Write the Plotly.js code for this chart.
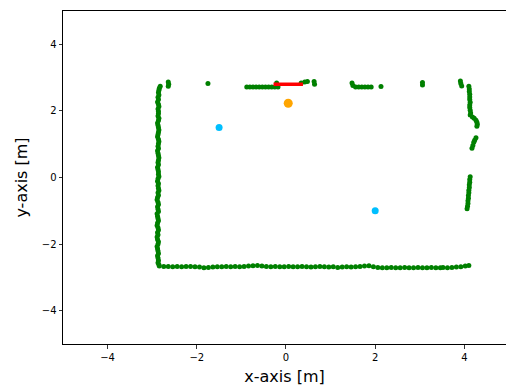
<!DOCTYPE html>
<html>
<head>
<meta charset="utf-8">
<script src="https://cdn.plot.ly/plotly-3.0.1.min.js"></script>
<style>html,body{margin:0;padding:0;overflow:hidden;background:#fff}#chart{width:506px;height:387px}</style>
</head>
<body>
<div id="chart"></div>
<script>
// Scan points (green) — left wall
const leftWallX = [-2.82,-2.84,-2.85,-2.86,-2.85,-2.87,-2.86,-2.88,-2.86,-2.85,-2.87,-2.86,-2.86,-2.87,-2.85,-2.86,-2.88,-2.87,-2.86,-2.85,-2.86,-2.87,-2.88,-2.86,-2.85,-2.86,-2.87,-2.86,-2.88,-2.87,-2.86,-2.85,-2.86,-2.87,-2.86,-2.88,-2.87,-2.86,-2.86,-2.85,-2.87,-2.88,-2.86,-2.87,-2.86,-2.85,-2.87,-2.86,-2.88,-2.89,-2.87,-2.86,-2.88,-2.87,-2.86,-2.89,-2.88,-2.87,-2.86,-2.88,-2.89,-2.87,-2.86,-2.88,-2.87,-2.89,-2.88,-2.86,-2.87,-2.89,-2.88,-2.87,-2.86,-2.88,-2.87,-2.86,-2.87,-2.85];
const leftWallY = [2.74,2.68,2.62,2.55,2.48,2.41,2.34,2.27,2.20,2.13,2.06,1.99,1.92,1.85,1.78,1.71,1.64,1.57,1.50,1.43,1.36,1.29,1.22,1.15,1.08,1.01,0.94,0.87,0.80,0.73,0.66,0.59,0.52,0.45,0.38,0.31,0.24,0.17,0.10,0.03,-0.04,-0.11,-0.18,-0.25,-0.32,-0.39,-0.46,-0.53,-0.60,-0.67,-0.74,-0.81,-0.88,-0.95,-1.02,-1.09,-1.16,-1.23,-1.30,-1.37,-1.44,-1.51,-1.58,-1.65,-1.72,-1.79,-1.86,-1.93,-2.00,-2.07,-2.14,-2.21,-2.28,-2.35,-2.42,-2.49,-2.56,-2.62];
// bottom wall
const bottomWallX = [-2.84,-2.74,-2.64,-2.54,-2.44,-2.34,-2.24,-2.14,-2.04,-1.94,-1.84,-1.74,-1.64,-1.54,-1.44,-1.34,-1.24,-1.14,-1.04,-0.94,-0.84,-0.74,-0.64,-0.54,-0.44,-0.34,-0.24,-0.14,-0.04,0.06,0.16,0.26,0.36,0.46,0.56,0.66,0.76,0.86,0.96,1.06,1.16,1.26,1.36,1.46,1.56,1.66,1.76,1.86,1.96,2.06,2.16,2.26,2.36,2.46,2.56,2.66,2.76,2.86,2.96,3.06,3.16,3.26,3.36,3.46,3.52,3.62,3.72,3.82,3.92,4.02,4.10];
const bottomWallY = [-2.66,-2.67,-2.67,-2.68,-2.67,-2.68,-2.67,-2.67,-2.68,-2.69,-2.71,-2.70,-2.69,-2.68,-2.68,-2.67,-2.68,-2.67,-2.68,-2.67,-2.66,-2.65,-2.64,-2.66,-2.67,-2.68,-2.67,-2.68,-2.68,-2.67,-2.68,-2.68,-2.67,-2.68,-2.69,-2.68,-2.67,-2.68,-2.69,-2.68,-2.70,-2.69,-2.68,-2.69,-2.68,-2.67,-2.66,-2.65,-2.68,-2.70,-2.71,-2.71,-2.70,-2.71,-2.71,-2.70,-2.71,-2.71,-2.70,-2.71,-2.71,-2.70,-2.71,-2.71,-2.70,-2.71,-2.70,-2.69,-2.68,-2.66,-2.64];
// top wall fragments
const topWallX = [-2.64,-2.63,-2.64,-1.75,-0.88,-0.81,-0.74,-0.67,-0.60,-0.53,-0.46,-0.39,-0.32,-0.25,-0.18,-0.21,0.34,0.42,0.48,0.63,0.64,1.48,1.50,1.56,1.63,1.70,1.77,1.84,1.91,2.13,3.06,3.06,3.91,3.92,3.94];
const topWallY = [2.87,2.80,2.74,2.82,2.72,2.72,2.72,2.72,2.72,2.72,2.72,2.72,2.72,2.72,2.72,2.84,2.84,2.87,2.88,2.88,2.80,2.84,2.76,2.72,2.72,2.72,2.72,2.72,2.72,2.73,2.85,2.78,2.90,2.82,2.75];
// right wall
const rightWallX = [4.10,4.11,4.11,4.12,4.12,4.12,4.13,4.12,4.12,4.13,4.14,4.13,4.18,4.22,4.26,4.28,4.29,4.28,4.26,4.23,4.21,4.19,4.17,4.13,4.12,4.12,4.11,4.11,4.10,4.10,4.09,4.09,4.08,4.08,4.07,4.06];
const rightWallY = [2.74,2.66,2.58,2.50,2.42,2.34,2.26,2.18,2.10,2.02,1.94,1.88,1.82,1.78,1.72,1.66,1.60,1.54,1.19,1.12,1.06,0.96,0.88,0.02,-0.06,-0.14,-0.22,-0.30,-0.38,-0.46,-0.54,-0.62,-0.70,-0.78,-0.86,-0.94];
// red segment (robot heading)
const headingX = [-0.28, 0.38];
const headingY = [2.80, 2.80];
// orange robot position
const robotX = [0.05];
const robotY = [2.23];
// blue landmarks
const landmarkX = [-1.5, 2.0];
const landmarkY = [1.5, -1.0];
const tickVals = [-4, -2, 0, 2, 4];

const scanX = leftWallX.concat(bottomWallX, topWallX, rightWallX);
const scanY = leftWallY.concat(bottomWallY, topWallY, rightWallY);

const traces = [
  {x: scanX, y: scanY, mode: 'markers', type: 'scatter',
   marker: {color: '#008000', size: 5}, hoverinfo: 'skip'},
  {x: headingX, y: headingY, mode: 'lines', type: 'scatter',
   line: {color: '#ff0000', width: 3.5}},
  {x: robotX, y: robotY, mode: 'markers', type: 'scatter',
   marker: {color: '#FFA500', size: 9}},
  {x: landmarkX, y: landmarkY, mode: 'markers', type: 'scatter',
   marker: {color: '#00BFFF', size: 7}}
];

const axisFont = {family: 'DejaVu Sans', size: 10, color: '#000'};
const layout = {
  width: 506, height: 387,
  margin: {l: 63, r: 0, t: 11, b: 43, pad: 0},
  showlegend: false,
  paper_bgcolor: '#fff', plot_bgcolor: '#fff',
  font: {family: 'DejaVu Sans', color: '#000'},
  xaxis: {
    range: [-5, 4.933], tickvals: tickVals, ticks: 'outside', ticklen: 3.5,
    tickcolor: '#000', tickwidth: 0.8, showgrid: false, zeroline: false,
    showline: true, mirror: true, linecolor: '#000', linewidth: 1,
    tickfont: axisFont,
    title: {text: 'x-axis [m]', font: {family: 'DejaVu Sans', size: 16, color: '#000'}, standoff: 9}
  },
  yaxis: {
    range: [-5, 5], tickvals: tickVals, ticks: 'outside', ticklen: 3.5,
    tickcolor: '#000', tickwidth: 0.8, showgrid: false, zeroline: false,
    showline: true, mirror: false, linecolor: '#000', linewidth: 1,
    tickfont: axisFont,
    title: {text: 'y-axis [m]', font: {family: 'DejaVu Sans', size: 16, color: '#000'}, standoff: 10}
  }
};

Plotly.newPlot('chart', traces, layout, {staticPlot: true, displayModeBar: false});
</script>
</body>
</html>
